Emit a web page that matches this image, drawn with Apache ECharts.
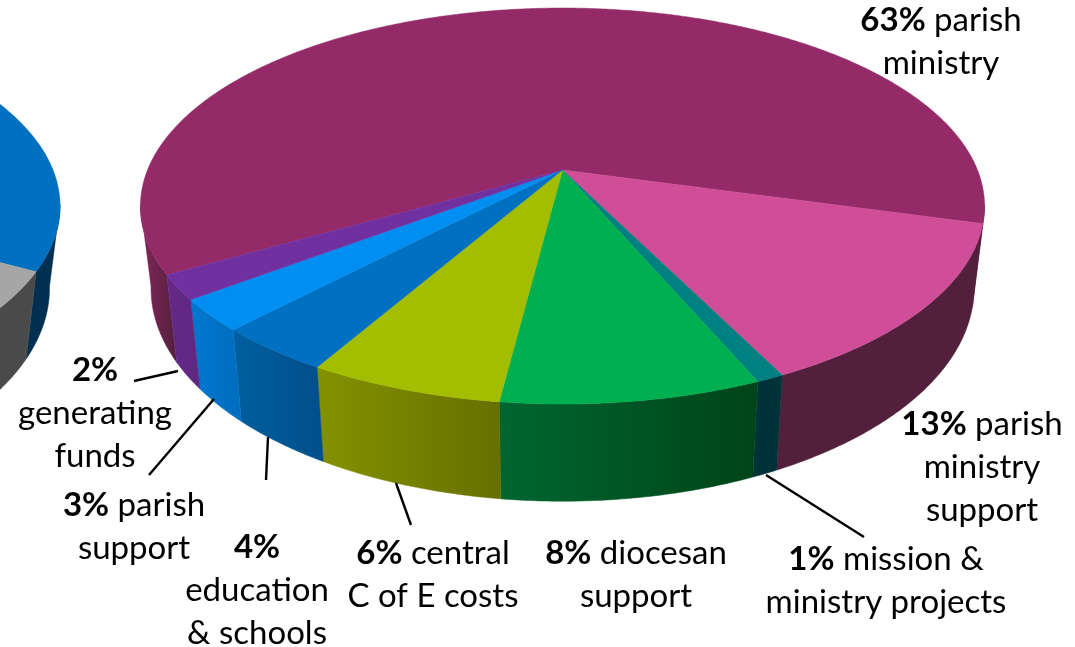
<!DOCTYPE html>
<html><head><meta charset="utf-8">
<style>html,body{margin:0;padding:0;background:#fff}#c{width:1075px;height:647px}</style>
<script src="https://cdn.jsdelivr.net/npm/echarts@6/dist/echarts.min.js"></script>
</head><body><div id="c"></div>
<script>
// Data (share of the pie, per cent)
const categories = ['parish ministry','parish ministry support','mission & ministry projects','diocesan support','central C of E costs','education & schools','parish support','generating funds'];
const shares = [62.6,13.4,0.9,8.4,6.3,3.8,2.6,2.0];
const labelTexts = [
  '{b|63%} parish\nministry',
  '{b|13%} parish\nministry\nsupport',
  '{b|1%} mission &\nministry projects',
  '{b|8%} diocesan\nsupport',
  '{b|6%} central\nC of E costs',
  '{b|4%}\neducation\n& schools',
  '{b|3%} parish\nsupport',
  '{b|2%}\ngenerating\nfunds'
];
const neighbourShares = [45,55];

// Styles
const topColors = ['#952a68','#cf4e97','#008080','#00b050','#a3bd00','#0070c0','#008ef0','#7030a0'];
const wallColors = [['#84265c','#52203d'],['#52203d','#52203d'],['#00323a','#00323a'],['#006630','#004418'],['#849200','#657000'],['#005f9f','#004f8a'],['#0078d0','#006dbe'],['#642888','#5f2880']];
const neighbourTop = ['#0070c0','#a6a6a6'];
const neighbourWall = [['#002f52','#002f52'],['#4a4a4a','#4a4a4a']];

// Layout
const labelAnchors = [[941,-1],[982,403],[886,538],[636,532],[433,532],[257,526],[134,484],[95,349]];
const leaders = [[[766,475],[864,537]],[[396,483],[411,525]],[[268,437],[266,480]],[[214,399],[149,475]],[[178,371],[134,381]]];
const FONT = 'Lato, Carlito, "Open Sans", sans-serif';
const SIZE = 33, LH = 43;

// Tilted-disc projection: screen position of a rim point
const view = {r:415, persp:-0.182, tilt:160.5, topY:170, baseY:249.5, baseScale:0.975, frontFrom:10, frontTo:170};
function project(cx, deg, level){
  const a = deg*Math.PI/180, u = Math.cos(a), v = Math.sin(a), w = 1+view.persp*v;
  const s = level ? view.baseScale : 1;
  return [cx + s*view.r*u/w, (view.tilt*v + (level ? view.baseY : view.topY))/w];
}
function range(values, startDeg, i){
  const total = values.reduce((p,c)=>p+c,0);
  let a = startDeg;
  for(let k=0;k<i;k++) a += values[k]/total*360;
  return [a, a+values[i]/total*360];
}
function arcDegs(a0,a1){
  const n = Math.max(2,Math.ceil((a1-a0)/0.5)), out=[];
  for(let i=0;i<=n;i++) out.push(a0+(a1-a0)*i/n);
  return out;
}
function topRender(values,startDeg,cx,colors){
  return function(params){
    const [a0,a1] = range(values,startDeg,params.dataIndex);
    const pts = [[cx,view.topY]].concat(arcDegs(a0,a1).map(d=>project(cx,d,0)));
    const c = colors[params.dataIndex];
    return {type:'polygon',shape:{points:pts},style:{fill:c,stroke:c,lineWidth:0.5}};
  };
}
function wallRender(values,startDeg,cx,colors){
  return function(params){
    const [a0,a1] = range(values,startDeg,params.dataIndex);
    const c = colors[params.dataIndex];
    const children = [];
    // Only the viewer-facing part of the rim gets a wall
    for(const k of [-360,0,360]){
      const s = Math.max(a0,view.frontFrom+k), e = Math.min(a1,view.frontTo+k);
      if(e<=s) continue;
      const degs = arcDegs(s,e);
      const pts = degs.map(d=>project(cx,d,0)).concat(degs.slice().reverse().map(d=>project(cx,d,1)));
      const xs = pts.map(p=>p[0]);
      const grad = {type:'linear',global:true,x:Math.min(...xs),y:0,x2:Math.max(...xs),y2:0,
        colorStops:[{offset:0,color:c[0]},{offset:1,color:c[1]}]};
      children.push({type:'polygon',shape:{points:pts},style:{fill:grad,stroke:grad,lineWidth:0.5}});
    }
    return {type:'group',children};
  };
}
const mainStart = 150.1, mainCx = 562.5, leftStart = -133, leftCx = -362;
function disc(values,start,cx,tops,walls,z){
  const base = {type:'custom',coordinateSystem:'none',silent:true,animation:false,clip:false};
  return [
    Object.assign({},base,{z:z,data:values,renderItem:wallRender(values,start,cx,walls)}),
    Object.assign({},base,{z:z+1,data:values,renderItem:topRender(values,start,cx,tops)})
  ];
}
const graphics = labelTexts.map((t,i)=>({
  type:'text',x:labelAnchors[i][0],y:labelAnchors[i][1],z:10,silent:true,
  style:{text:t,align:'center',verticalAlign:'top',fontFamily:FONT,fontSize:SIZE,lineHeight:LH,fill:'#000',
    rich:{b:{fontFamily:FONT,fontSize:SIZE,lineHeight:LH,fontWeight:'bold',fill:'#000'}}}
})).concat(leaders.map(p=>({
  type:'polyline',z:9,silent:true,shape:{points:p},style:{stroke:'#000',lineWidth:2.4,fill:null}
})));
const chart = echarts.init(document.getElementById('c'));
chart.setOption({
  backgroundColor:'#fff',animation:false,
  series:[].concat(
    disc(neighbourShares,leftStart,leftCx,neighbourTop,neighbourWall,1),
    disc(shares,mainStart,mainCx,topColors,wallColors,3)
  ),
  graphic:graphics
});
</script></body></html>
